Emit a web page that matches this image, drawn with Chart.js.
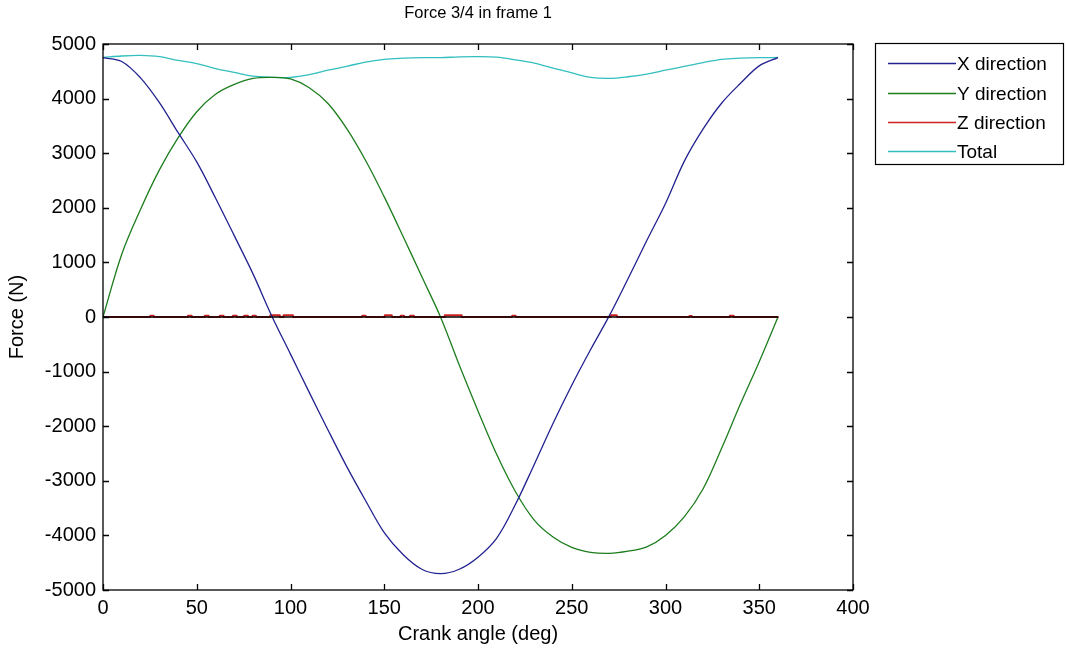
<!DOCTYPE html>
<html>
<head>
<meta charset="utf-8">
<script src="https://cdn.jsdelivr.net/npm/chart.js@4"></script>
<style>
  html, body { margin: 0; padding: 0; background: #fff; }
  #wrap { width: 1067px; height: 653px; }
</style>
</head>
<body>
<div id="wrap"><canvas id="forceChart" width="1067" height="653"></canvas></div>
<script>
// Crank angle (deg)
const angles = [0, 10, 20, 30, 40, 50, 60, 70, 80, 90, 100, 110, 120, 130, 140, 150, 160, 170, 180,
    190, 200, 210, 220, 230, 240, 250, 260, 270, 280, 290, 300, 310, 320, 330, 340, 350, 360];

// Force (N)
const xForce = [4750, 4680, 4380, 3930, 3380, 2840, 2180, 1490, 790, 20, -680, -1380, -2070, -2740, -3360, -3950, -4350, -4620, -4700,
    -4620, -4400, -4050, -3430, -2700, -1950, -1250, -600, 20, 700, 1400, 2080, 2850, 3440, 3920, 4280, 4600, 4750];
const yForce = [0, 1150, 1970, 2690, 3280, 3760, 4080, 4260, 4370, 4390, 4360, 4200, 3910, 3450, 2870, 2200, 1480, 740, 0,
    -880, -1720, -2520, -3200, -3720, -4030, -4220, -4310, -4330, -4290, -4210, -4000, -3660, -3150, -2400, -1590, -820, 0];
const totalForce = [4753, 4780, 4790, 4770, 4700, 4640, 4550, 4480, 4410, 4390, 4390, 4440, 4520, 4590, 4670, 4720, 4740, 4750, 4750,
    4765, 4770, 4760, 4710, 4650, 4560, 4470, 4390, 4370, 4400, 4450, 4520, 4590, 4660, 4720, 4740, 4750, 4753];

// Z direction: near zero, small bumps (start angle, end angle, height)
const zStart  = [25, 45, 54, 62, 69, 75, 79.5, 89, 96, 138, 150, 158.5, 163.5, 182, 218, 270.5, 312.5, 334];
const zEnd    = [27, 47, 56, 64, 71, 77, 81.5, 94, 101, 140, 154, 160.5, 165.5, 191, 220, 274, 314, 336];
const zHeight = [25, 25, 25, 25, 25, 25, 25, 30, 30, 25, 30, 25, 25, 30, 25, 30, 20, 25];

// black zero line
const zeroAngles = [0, 360];
const zeroValues = [0, 0];

const xTicks = { min: 0, max: 400, step: 50 };
const yTicks = { min: -5000, max: 5000, step: 1000 };

const titleText = 'Force 3/4 in frame 1';
const seriesLabels = ['X direction', 'Y direction', 'Z direction', 'Total'];
const seriesColors = ['#22228f', '#1d7d1d', '#cc2222', '#33bfbf'];

const FONT = "'Liberation Sans', Arial, sans-serif";

function toPoints(xs, ys) {
    return xs.map((x, i) => ({ x: x, y: ys[i] }));
}

function zPoints() {
    const pts = [{ x: 0, y: 0 }];
    zStart.forEach((s, i) => {
        pts.push({ x: s, y: 0 });
        pts.push({ x: s + 0.3, y: zHeight[i] });
        pts.push({ x: zEnd[i], y: zHeight[i] });
        pts.push({ x: zEnd[i] + 0.3, y: 0 });
    });
    pts.push({ x: 360, y: 0 });
    return pts;
}

// box around the axes with inward ticks + title over the plot, like matlab
const boxPlugin = {
    id: 'boxPlugin',
    afterDatasetsDraw(chart) {
        const { ctx, chartArea: a, scales } = chart;
        const tl = 6;
        ctx.save();
        ctx.strokeStyle = '#000';
        ctx.lineWidth = 1.3;
        ctx.strokeRect(a.left, a.top, a.right - a.left, a.bottom - a.top);
        ctx.beginPath();
        scales.x.ticks.forEach(t => {
            const px = Math.round(scales.x.getPixelForValue(t.value)) + 0.5;
            ctx.moveTo(px, a.bottom); ctx.lineTo(px, a.bottom - tl);
            ctx.moveTo(px, a.top); ctx.lineTo(px, a.top + tl);
        });
        scales.y.ticks.forEach(t => {
            const py = Math.round(scales.y.getPixelForValue(t.value)) + 0.5;
            ctx.moveTo(a.left, py); ctx.lineTo(a.left + tl, py);
            ctx.moveTo(a.right, py); ctx.lineTo(a.right - tl, py);
        });
        ctx.stroke();

        ctx.fillStyle = '#000';
        ctx.font = '16.5px ' + FONT;
        ctx.textAlign = 'center';
        ctx.textBaseline = 'middle';
        ctx.fillText(titleText, (a.left + a.right) / 2, 13);
        ctx.restore();
    }
};

// legend box on the right
const legendPlugin = {
    id: 'legendPlugin',
    afterDraw(chart) {
        const ctx = chart.ctx;
        const box = { left: 875, top: 43, right: 1063, bottom: 164 };
        const rowY = [63, 93, 122, 151];
        ctx.save();
        ctx.fillStyle = '#fff';
        ctx.fillRect(box.left, box.top, box.right - box.left, box.bottom - box.top);
        ctx.strokeStyle = '#000';
        ctx.lineWidth = 1.2;
        ctx.strokeRect(box.left + 0.5, box.top + 0.5, box.right - box.left, box.bottom - box.top);
        ctx.font = '19px ' + FONT;
        ctx.textBaseline = 'middle';
        ctx.textAlign = 'left';
        const items = chart.data.datasets.filter(d => seriesLabels.includes(d.label));
        items.forEach((d, i) => {
            const y = rowY[i] + 0.5;
            ctx.strokeStyle = d.borderColor;
            ctx.lineWidth = 1.4;
            ctx.beginPath();
            ctx.moveTo(888, y);
            ctx.lineTo(956, y);
            ctx.stroke();
            ctx.fillStyle = '#000';
            ctx.fillText(d.label, 957, y + 1);
        });
        ctx.restore();
    }
};

document.addEventListener('DOMContentLoaded', () => {
    const ctx = document.getElementById('forceChart');

    const lineStyle = { borderWidth: 1.3, pointRadius: 0, fill: false, tension: 0.35 };

    new Chart(ctx, {
        type: 'line',
        data: {
            datasets: [
                { label: 'zero', data: toPoints(zeroAngles, zeroValues), borderColor: '#000', borderWidth: 1.4, pointRadius: 0, tension: 0, order: 0 },
                { label: seriesLabels[0], data: toPoints(angles, xForce), borderColor: seriesColors[0], ...lineStyle, order: 1 },
                { label: seriesLabels[1], data: toPoints(angles, yForce), borderColor: seriesColors[1], ...lineStyle, order: 2 },
                { label: seriesLabels[2], data: zPoints(), borderColor: seriesColors[2], borderWidth: 2, borderJoinStyle: 'round', borderCapStyle: 'round', pointRadius: 0, tension: 0, order: 3 },
                { label: seriesLabels[3], data: toPoints(angles, totalForce), borderColor: seriesColors[3], ...lineStyle, order: 4 }
            ]
        },
        options: {
            responsive: false,
            animation: false,
            layout: { padding: { left: 0, right: 214, top: 44, bottom: 0 } },
            plugins: {
                legend: { display: false },
                tooltip: { enabled: false },
                title: { display: false }
            },
            scales: {
                x: {
                    type: 'linear',
                    min: xTicks.min,
                    max: xTicks.max,
                    grid: { display: false, drawTicks: false },
                    border: { display: false },
                    ticks: { stepSize: xTicks.step, color: '#000', padding: 6, font: { family: FONT, size: 20 }, callback: v => String(v) },
                    title: { display: true, text: 'Crank angle (deg)', color: '#000', font: { family: FONT, size: 20 }, padding: { top: 0, bottom: 7 } },
                    afterFit(s) { s.height = 63; }
                },
                y: {
                    type: 'linear',
                    min: yTicks.min,
                    max: yTicks.max,
                    grid: { display: false, drawTicks: false },
                    border: { display: false },
                    ticks: { stepSize: yTicks.step, color: '#000', padding: 7, font: { family: FONT, size: 20 }, callback: v => String(v) },
                    title: { display: true, text: 'Force (N)', color: '#000', font: { family: FONT, size: 20 }, padding: { top: 5, bottom: 0 } },
                    afterFit(s) { s.width = 103; }
                }
            }
        },
        plugins: [boxPlugin, legendPlugin]
    });
});
</script>
</body>
</html>
